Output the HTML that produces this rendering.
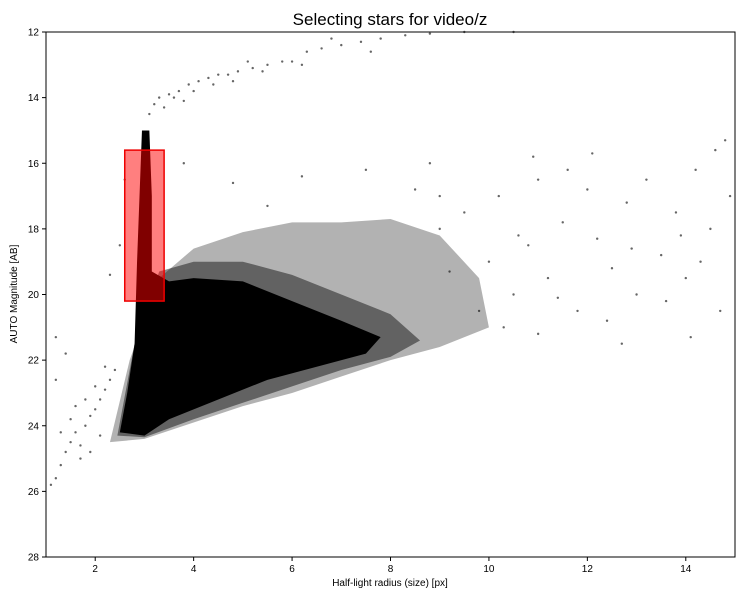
<!DOCTYPE html>
<html><head><meta charset="utf-8"><style>
body{margin:0;background:#fff;font-family:"Liberation Sans",sans-serif}
svg text{font-family:"Liberation Sans",sans-serif}
</style></head><body>
<svg id="chart" width="750" height="600" xmlns="http://www.w3.org/2000/svg">
<rect width="750" height="600" fill="#fff"/>
<text x="390" y="25" font-size="17" text-anchor="middle">Selecting stars for video/z</text>
<text x="390" y="586" font-size="10" text-anchor="middle">Half-light radius (size) [px]</text>
<text transform="translate(17,294) rotate(-90)" font-size="10" text-anchor="middle">AUTO Magnitude [AB]</text>
<g id="density"></g>
<g id="points"></g>
<g id="sel"></g>
<g id="axes"></g>
</svg>
<script>
const xTicks=[2,4,6,8,10,12,14];
const yTicks=[12,14,16,18,20,22,24,26,28];
const selX=[2.6,3.4];
const selY=[15.6,20.2];
const haloX=[2.3,2.7,3.3,4,5,6,7,8,9,9.8,10,9,8,7,6,5,4,3];
const haloY=[24.5,22,19.5,18.6,18.1,17.8,17.8,17.7,18.2,19.5,21,21.6,22,22.5,23,23.4,23.9,24.4];
const midX=[2.45,2.8,3.3,4,5,6,7,8,8.6,8,7,6,5,4,3];
const midY=[24.3,21.5,19.3,19.0,19.0,19.4,20.0,20.6,21.4,21.9,22.3,22.8,23.3,23.8,24.35];
const coreX=[2.5,2.65,2.8,2.85,2.9,2.95,3.1,3.15,3.15,3.5,4,5,6,7,7.8,7.5,6.5,5.5,4.5,3.5,3];
const coreY=[24.2,23,21.5,19,17,15,15,17,19.3,19.6,19.5,19.6,20.2,20.8,21.3,21.8,22.2,22.6,23.2,23.8,24.3];
const xs=[3.1,3.2,3.3,3.5,3.7,3.9,4.1,4.3,4.5,4.7,4.9,5.2,5.5,5.8,6.0,6.3,6.6,7.0,7.4,7.8,8.3,8.8,9.5,10.5,3.4,3.6,4.0,4.4,4.8,5.4,6.2,5.1,3.8,6.8,7.6,
9,9.5,10,10.2,10.5,10.8,11,11.2,11.5,11.8,12,12.2,12.5,12.8,13,13.2,13.5,13.8,14,14.2,14.5,14.7,14.9,14.8,14.6,12.1,10.9,9,8.5,9.8,10.3,11,12.4,13.6,14.3,11.6,8.8,7.5,6.2,3.8,4.8,5.5,12.9,13.9,10.6,9.2,11.4,12.7,14.1,
1.1,1.2,1.3,1.4,1.5,1.6,1.7,1.8,1.9,2.0,2.1,2.2,2.3,2.4,1.5,1.6,1.8,2.0,2.2,1.3,1.7,1.9,2.1,1.2,1.4,1.2,2.3,2.5,2.6];
const ys=[14.5,14.2,14.0,13.9,13.8,13.6,13.5,13.4,13.3,13.3,13.2,13.1,13.0,12.9,12.9,12.6,12.5,12.4,12.3,12.2,12.1,12.05,12.0,12.0,14.3,14.0,13.8,13.6,13.5,13.2,13.0,12.9,14.1,12.2,12.6,
18,17.5,19,17,20,18.5,16.5,19.5,17.8,20.5,16.8,18.3,19.2,17.2,20,16.5,18.8,17.5,19.5,16.2,18,20.5,17,15.3,15.6,15.7,15.8,17,16.8,20.5,21,21.2,20.8,20.2,19,16.2,16,16.2,16.4,16,16.6,17.3,18.6,18.2,18.2,19.3,20.1,21.5,21.3,
25.8,25.6,25.2,24.8,24.5,24.2,24.6,24.0,23.7,23.5,23.2,22.9,22.6,22.3,23.8,23.4,23.2,22.8,22.2,24.2,25.0,24.8,24.3,22.6,21.8,21.3,19.4,18.5,16.5];
const L=46,R=735,T=32,B=557,X0=1,X1=15,Y0=12,Y1=28;
const sx=v=>L+(v-X0)/(X1-X0)*(R-L), sy=v=>T+(v-Y0)/(Y1-Y0)*(B-T);
const NS="http://www.w3.org/2000/svg";
function mk(t,a,p){const e=document.createElementNS(NS,t);for(const k in a)e.setAttribute(k,a[k]);p.appendChild(e);return e;}
const dg=document.getElementById('density');
let h=mk('polygon',{points:haloX.map((x,i)=>sx(x)+','+sy(haloY[i])).join(' '),fill:'#000','fill-opacity':0.3},dg);


let m=mk('polygon',{points:midX.map((x,i)=>sx(x)+','+sy(midY[i])).join(' '),fill:'#000','fill-opacity':0.45},dg);


let c=mk('polygon',{points:coreX.map((x,i)=>sx(x)+','+sy(coreY[i])).join(' '),fill:'#000'},dg);


const pg=document.getElementById('points');
xs.forEach((x,i)=>{const p=mk('circle',{cx:sx(x),cy:sy(ys[i]),r:1.2,fill:'#000','fill-opacity':0.6},pg);

});
const sg=document.getElementById('sel');
let r=mk('rect',{x:sx(selX[0]),y:sy(selY[0]),width:sx(selX[1])-sx(selX[0]),height:sy(selY[1])-sy(selY[0]),fill:'rgba(255,0,0,0.5)',stroke:'#e00','stroke-width':1.5},sg);


const ag=document.getElementById('axes');
let f=mk('rect',{x:L,y:T,width:R-L,height:B-T,fill:'none',stroke:'#000','stroke-width':1},ag);


xTicks.forEach(v=>{const x=sx(v);mk('line',{x1:x,x2:x,y1:B,y2:B+4,stroke:'#000'},ag);
const t=mk('text',{x:x,y:B+15,'font-size':10,'text-anchor':'middle'},ag);t.textContent=v;

});
yTicks.forEach(v=>{const y=sy(v);mk('line',{x1:L-4,x2:L,y1:y,y2:y,stroke:'#000'},ag);
const t=mk('text',{x:L-7,y:y+3.5,'font-size':10,'text-anchor':'end'},ag);t.textContent=v;

});
</script>
</body></html>
